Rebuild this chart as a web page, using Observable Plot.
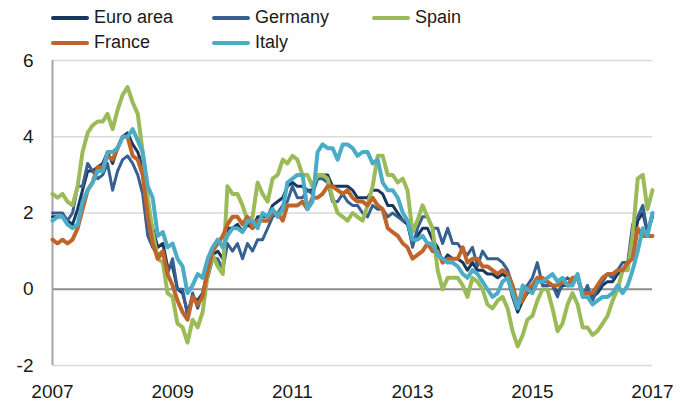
<!DOCTYPE html>
<html>
<head>
<meta charset="utf-8">
<script src="https://cdn.jsdelivr.net/npm/d3@7"></script>
<script src="https://cdn.jsdelivr.net/npm/@observablehq/plot@0.6"></script>
<style>
  body { margin: 0; background: #fff; font-family: "Liberation Sans", Arial, sans-serif; }
  #wrap { position: relative; width: 690px; height: 404px; overflow: hidden; }
  #legend { position: relative; width: 690px; height: 50px; }
  .item { position: absolute; display: flex; align-items: center; font-size: 18px; color: #1a1a1a; white-space: nowrap; }
  .sw { width: 38px; height: 4px; border-radius: 2px; margin-right: 5px; }
  #chart svg { display: block; }
</style>
</head>
<body>
<div id="wrap"><div id="legend"></div><div id="chart"></div></div>
<script>
// Series names (legend order) and colours
const seriesNames = ["Euro area", "Germany", "Spain", "France", "Italy"];
const seriesColors = ["#17375E", "#376092", "#9BBB59", "#C0652A", "#4BACC6"];

// Monthly annual inflation rates, Apr 2007 – Apr 2017 (121 months)
const euroArea = [
  1.9, 1.9, 1.9, 1.8, 1.7, 2.1, 2.6, 3.1, 3.1,
  3.2, 3.3, 3.6, 3.3, 3.7, 4.0, 4.1, 3.8, 3.6, 3.2, 2.1, 1.6,
  1.1, 1.2, 0.6, 0.6, 0.0, -0.1, -0.6, -0.2, -0.3, -0.1, 0.5, 0.9,
  1.0, 0.8, 1.6, 1.6, 1.7, 1.5, 1.7, 1.6, 1.9, 1.9, 1.9, 2.2,
  2.3, 2.4, 2.7, 2.8, 2.7, 2.7, 2.6, 2.6, 3.0, 3.0, 3.0, 2.7,
  2.7, 2.7, 2.7, 2.6, 2.4, 2.4, 2.4, 2.6, 2.6, 2.5, 2.2, 2.2,
  2.0, 1.8, 1.7, 1.2, 1.4, 1.6, 1.6, 1.3, 1.1, 0.7, 0.9, 0.8,
  0.8, 0.7, 0.5, 0.7, 0.5, 0.5, 0.4, 0.4, 0.3, 0.4, 0.3, -0.2,
  -0.6, -0.3, -0.1, 0.0, 0.3, 0.2, 0.2, 0.1, -0.1, 0.1, 0.1, 0.2,
  0.3, -0.2, 0.0, -0.2, -0.1, 0.1, 0.2, 0.2, 0.4, 0.5, 0.6, 1.1,
  1.8, 2.0, 1.5, 1.9
];
const germany = [
  2.0, 2.0, 2.0, 1.8, 2.0, 2.7, 2.7, 3.3, 3.1,
  2.9, 3.0, 3.3, 2.6, 3.1, 3.4, 3.5, 3.3, 3.0, 2.5, 1.4, 1.1,
  0.9, 1.0, 0.4, 0.8, 0.0, 0.0, -0.7, -0.1, -0.5, -0.1, 0.3, 0.8,
  0.8, 0.5, 1.2, 1.0, 1.2, 0.8, 1.2, 1.0, 1.3, 1.3, 1.6, 1.9,
  2.0, 2.2, 2.3, 2.7, 2.4, 2.4, 2.6, 2.5, 2.9, 2.9, 2.8, 2.3,
  2.3, 2.5, 2.3, 2.2, 2.2, 2.0, 1.9, 2.2, 2.1, 2.1, 1.9, 2.0,
  1.9, 1.8, 1.8, 1.1, 1.6, 1.9, 1.9, 1.6, 1.6, 1.2, 1.6, 1.2,
  1.2, 1.0, 0.9, 1.1, 0.6, 1.0, 0.8, 0.8, 0.8, 0.7, 0.5, 0.1,
  -0.5, 0.0, 0.1, 0.3, 0.7, 0.1, 0.1, 0.1, -0.2, 0.2, 0.3, 0.2,
  0.4, -0.2, 0.1, -0.3, 0.0, 0.2, 0.4, 0.3, 0.5, 0.7, 0.7, 1.7,
  1.9, 2.2, 1.5, 2.0
];
const spain = [
  2.5, 2.4, 2.5, 2.3, 2.2, 2.7, 3.6, 4.1, 4.3,
  4.4, 4.4, 4.6, 4.2, 4.7, 5.1, 5.3, 4.9, 4.6, 3.6, 2.4, 1.5,
  0.8, 0.7, -0.1, -0.2, -0.9, -1.0, -1.4, -0.8, -1.0, -0.6, 0.4, 0.9,
  0.6, 0.4, 2.7, 2.5, 2.5, 2.2, 1.8, 1.9, 2.8, 2.5, 2.3, 2.9,
  3.0, 3.4, 3.3, 3.5, 3.4, 3.0, 3.0, 2.7, 3.0, 3.0, 2.9, 2.4,
  2.0, 1.9, 1.8, 2.0, 1.9, 1.8, 2.2, 2.7, 3.5, 3.5, 3.0, 3.0,
  2.8, 2.9, 2.6, 1.5, 1.8, 2.2, 1.9, 1.6, 0.5, 0.0, 0.3, 0.3,
  0.3, 0.1, -0.2, 0.3, 0.2, 0.0, -0.4, -0.5, -0.3, -0.2, -0.5, -1.1,
  -1.5, -1.2, -0.8, -0.7, -0.3, 0.0, 0.0, -0.5, -1.1, -0.9, -0.4, -0.1,
  -0.4, -1.0, -1.0, -1.2, -1.1, -0.9, -0.7, -0.3, 0.0, 0.5, 0.5, 1.4,
  2.9, 3.0, 2.1, 2.6
];
const france = [
  1.3, 1.2, 1.3, 1.2, 1.3, 1.6, 2.1, 2.6, 2.8,
  3.2, 3.2, 3.5, 3.4, 3.7, 4.0, 4.0, 3.5, 3.4, 3.0, 1.9, 1.2,
  0.8, 1.0, 0.4, 0.1, -0.3, -0.6, -0.8, -0.2, -0.4, -0.2, 0.5, 1.0,
  1.2, 1.4, 1.7, 1.9, 1.9, 1.7, 1.9, 1.6, 1.8, 1.8, 1.8, 2.0,
  2.0, 1.8, 2.2, 2.2, 2.2, 2.3, 2.1, 2.4, 2.4, 2.5, 2.7, 2.7,
  2.6, 2.5, 2.6, 2.4, 2.3, 2.3, 2.2, 2.4, 2.2, 2.1, 1.6, 1.5,
  1.4, 1.2, 1.1, 0.8, 0.9, 1.0, 1.2, 1.0, 1.0, 0.7, 0.8, 0.8,
  0.8, 1.1, 0.7, 0.8, 0.8, 0.6, 0.6, 0.5, 0.4, 0.5, 0.4, 0.1,
  -0.4, -0.3, 0.0, 0.1, 0.3, 0.3, 0.2, 0.1, 0.1, 0.2, 0.1, 0.3,
  0.3, -0.1, -0.1, -0.1, 0.1, 0.3, 0.4, 0.4, 0.5, 0.5, 0.7, 0.8,
  1.6, 1.4, 1.4, 1.4
];
const italy = [
  1.8, 1.9, 1.9, 1.7, 1.6, 1.7, 2.3, 2.6, 2.8,
  3.1, 3.1, 3.6, 3.6, 3.7, 4.0, 4.0, 4.2, 3.9, 3.6, 2.7, 2.4,
  1.4, 1.5, 1.1, 1.2, 0.8, 0.6, -0.1, 0.1, 0.4, 0.3, 0.8, 1.1,
  1.3, 1.1, 1.4, 1.6, 1.6, 1.5, 1.8, 1.8, 1.6, 2.0, 1.9, 2.1,
  1.9, 2.1, 2.8, 2.9, 3.0, 3.0, 2.1, 2.3, 3.6, 3.8, 3.7, 3.7,
  3.4, 3.8, 3.8, 3.7, 3.5, 3.6, 3.6, 3.3, 3.4, 2.8, 2.6, 2.6,
  2.4, 2.0, 1.8, 1.3, 1.3, 1.4, 1.2, 1.2, 0.9, 0.8, 0.7, 0.7,
  0.6, 0.4, 0.3, 0.5, 0.4, 0.2, 0.0, -0.2, -0.1, 0.2, 0.3, -0.1,
  -0.5, 0.1, 0.0, -0.1, 0.2, 0.2, 0.3, 0.4, 0.2, 0.3, 0.1, 0.1,
  0.4, -0.2, -0.2, -0.4, -0.3, -0.2, -0.2, -0.1, 0.1, -0.1, 0.1, 0.5,
  1.0, 1.6, 1.4, 2.0
];
const seriesValues = [euroArea, germany, spain, france, italy];
const seriesWidths = [3, 3, 4, 4, 4];

// Category axis: months, tick labels every 24 months
const months = d3.utcMonth.range(new Date(Date.UTC(2007, 3, 1)), new Date(Date.UTC(2017, 4, 1)));
const tickLabels = ["2007", "2009", "2011", "2013", "2015", "2017"];
const xTicks = tickLabels.map((_, k) => months[k * 24]);
const yTicks = [-2, 0, 2, 4, 6];
const gridValues = [-2, 2, 4, 6];

// Legend
const legend = document.getElementById("legend");
const colX = [51, 212, 372];
const rowTop = [7, 32];
seriesNames.forEach((name, i) => {
  const item = document.createElement("div");
  item.className = "item";
  item.style.left = colX[i % 3] + "px";
  item.style.top = rowTop[Math.floor(i / 3)] + "px";
  const sw = document.createElement("div");
  sw.className = "sw";
  sw.style.background = seriesColors[i];
  const t = document.createElement("span");
  t.textContent = name;
  item.appendChild(sw);
  item.appendChild(t);
  legend.appendChild(item);
});

const lineMarks = seriesValues.map((vals, s) =>
  Plot.line(months.map((d, i) => ({date: d, value: vals[i]})), {
    x: "date", y: "value",
    stroke: seriesColors[s], strokeWidth: seriesWidths[s],
    strokeLinejoin: "round", strokeLinecap: "round"
  })
);

const chart = Plot.plot({
  width: 690,
  height: 354,
  marginTop: 10,
  marginBottom: 39,
  marginLeft: 52,
  marginRight: 38,
  style: {fontFamily: "'Liberation Sans', Arial, sans-serif", fontSize: "19px", color: "#1a1a1a", background: "transparent"},
  x: {type: "utc", domain: [months[0], months[months.length - 1]], ticks: xTicks,
      tickFormat: (d) => tickLabels[xTicks.findIndex((t) => +t === +d)], tickSize: 0, tickPadding: 19, label: null},
  y: {domain: [-2, 6], ticks: yTicks, tickSize: 0, tickPadding: 19, label: null, tickFormat: (d) => String(d)},
  marks: [
    Plot.ruleY(gridValues, {stroke: "#D9D9D9", strokeWidth: 1.5}),
    Plot.ruleY([0], {stroke: "#8C8C8C", strokeWidth: 2}),
    Plot.ruleX([months[0]], {stroke: "#A6A6A6", strokeWidth: 2}),
    ...lineMarks
  ]
});
document.getElementById("chart").appendChild(chart);
</script>
</body>
</html>
